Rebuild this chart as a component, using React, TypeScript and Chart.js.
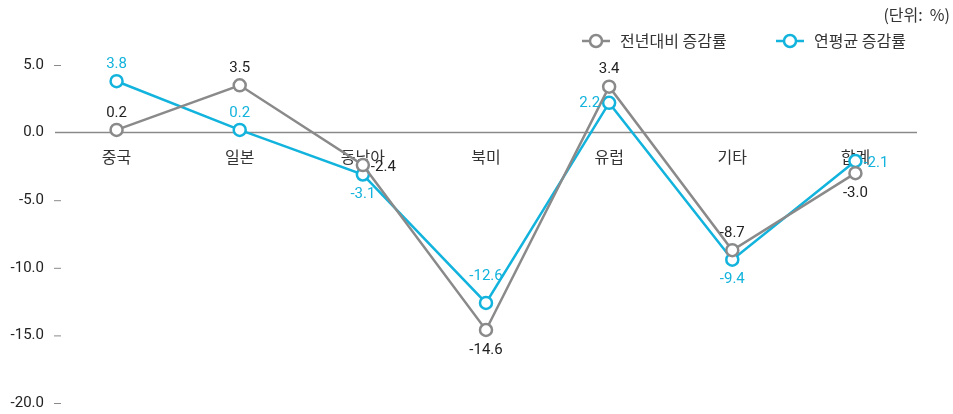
import React, { useEffect, useRef } from "react";
import { Chart, registerables } from "chart.js";

Chart.register(...registerables);

const categories = ["중국", "일본", "동남아", "북미", "유럽", "기타", "합계"];
const yoyValues = [0.2, 3.5, -2.4, -14.6, 3.4, -8.7, -3.0];
const avgValues = [3.8, 0.2, -3.1, -12.6, 2.2, -9.4, -2.1];
const seriesNames = ["전년대비 증감률", "연평균 증감률"];
const yTicks = [5, 0, -5, -10, -15, -20];
const unitText = "(단위:  %)";

const yoyPlacement = ["top", "top", "right", "bottom", "top", "top", "bottom"];
const avgPlacement = ["top", "top", "bottom", "topFar", "left", "bottom", "right"];

const GRAY = "#8a8a8a";
const CYAN = "#12b3dc";
const TEXT = "#222222";
const NUM_FONT = "15px Roboto, 'Noto Sans', sans-serif";
const KR_FONT = "16px 'Noto Sans CJK KR', 'Noto Sans', sans-serif";

const overlayPlugin = {
  id: "overlay",
  beforeDatasetsDraw(chart: any) {
    const { ctx, chartArea, scales } = chart;
    const y = scales.y;
    const x = scales.x;
    const y0 = y.getPixelForValue(0);
    ctx.save();
    ctx.strokeStyle = GRAY;
    ctx.lineWidth = 1.5;
    ctx.beginPath();
    ctx.moveTo(chartArea.left, y0);
    ctx.lineTo(chartArea.right, y0);
    ctx.stroke();
    ctx.font = NUM_FONT;
    ctx.textAlign = "right";
    ctx.textBaseline = "middle";
    yTicks.forEach((v) => {
      const py = y.getPixelForValue(v);
      ctx.fillStyle = TEXT;
      ctx.fillText(v.toFixed(1), chartArea.left - 11, py);
      if (v !== 0) {
        ctx.strokeStyle = GRAY;
        ctx.lineWidth = 1;
        ctx.beginPath();
        ctx.moveTo(chartArea.left - 1, py + 0.5);
        ctx.lineTo(chartArea.left + 6, py + 0.5);
        ctx.stroke();
      }
    });
    ctx.font = KR_FONT;
    ctx.textAlign = "center";
    ctx.textBaseline = "middle";
    ctx.fillStyle = "#333333";
    categories.forEach((c, i) => {
      ctx.fillText(c, x.getPixelForValue(i), y0 + 24);
    });
    ctx.restore();
  },
  afterDatasetsDraw(chart: any) {
    const { ctx, scales } = chart;
    const x = scales.x;
    const y = scales.y;
    ctx.save();
    ctx.font = NUM_FONT;
    const draw = (vals: number[], places: string[], color: string) => {
      vals.forEach((v, i) => {
        const px = x.getPixelForValue(i);
        const py = y.getPixelForValue(v);
        const p = places[i];
        ctx.fillStyle = color;
        ctx.textBaseline = "middle";
        if (p === "top") {
          ctx.textAlign = "center";
          ctx.fillText(v.toFixed(1), px, py - 17);
        } else if (p === "topFar") {
          ctx.textAlign = "center";
          ctx.fillText(v.toFixed(1), px, py - 27);
        } else if (p === "bottom") {
          ctx.textAlign = "center";
          ctx.fillText(v.toFixed(1), px, py + 20);
        } else if (p === "right") {
          ctx.textAlign = "left";
          ctx.fillText(v.toFixed(1), px + 8, py + 2);
        } else {
          ctx.textAlign = "right";
          ctx.fillText(v.toFixed(1), px - 9, py);
        }
      });
    };
    draw(yoyValues, yoyPlacement, TEXT);
    draw(avgValues, avgPlacement, CYAN);

    ctx.font = KR_FONT;
    ctx.fillStyle = "#333333";
    ctx.textAlign = "right";
    ctx.textBaseline = "middle";
    ctx.fillText(unitText, 950, 15);

    const items = [
      { name: seriesNames[0], color: GRAY, x: 582 },
      { name: seriesNames[1], color: CYAN, x: 776 },
    ];
    const ly = 41;
    items.forEach((it) => {
      ctx.strokeStyle = it.color;
      ctx.lineWidth = 2.5;
      ctx.beginPath();
      ctx.moveTo(it.x, ly);
      ctx.lineTo(it.x + 28, ly);
      ctx.stroke();
      ctx.beginPath();
      ctx.fillStyle = "#ffffff";
      ctx.arc(it.x + 14, ly, 6, 0, Math.PI * 2);
      ctx.fill();
      ctx.stroke();
      ctx.fillStyle = "#333333";
      ctx.font = KR_FONT;
      ctx.textAlign = "left";
      ctx.fillText(it.name, it.x + 38, ly);
    });
    ctx.restore();
  },
};

export default function App() {
  const ref = useRef<HTMLCanvasElement | null>(null);
  useEffect(() => {
    if (!ref.current) return;
    const chart = new Chart(ref.current, {
      type: "line",
      data: {
        labels: categories,
        datasets: [
          {
            label: seriesNames[0],
            data: yoyValues,
            borderColor: GRAY,
            backgroundColor: "#ffffff",
            borderWidth: 2.5,
            pointRadius: 6,
            pointBorderWidth: 2.5,
            pointBackgroundColor: "#ffffff",
            pointBorderColor: GRAY,
            tension: 0,
          },
          {
            label: seriesNames[1],
            data: avgValues,
            borderColor: CYAN,
            backgroundColor: "#ffffff",
            borderWidth: 2.5,
            pointRadius: 6,
            pointBorderWidth: 2.5,
            pointBackgroundColor: "#ffffff",
            pointBorderColor: CYAN,
            tension: 0,
          },
        ],
      },
      options: {
        animation: false,
        responsive: true,
        maintainAspectRatio: false,
        layout: { padding: { top: 65, bottom: 11, left: 55, right: 36 } },
        plugins: {
          legend: { display: false },
          tooltip: { enabled: false },
        },
        scales: {
          x: { display: false, offset: true },
          y: { display: false, min: -20, max: 5 },
        },
      },
      plugins: [overlayPlugin],
    });
    return () => chart.destroy();
  }, []);
  return (
    <div style={{ position: "absolute", left: 0, top: 0, width: 953, height: 414 }}>
      <canvas ref={ref} />
    </div>
  );
}
